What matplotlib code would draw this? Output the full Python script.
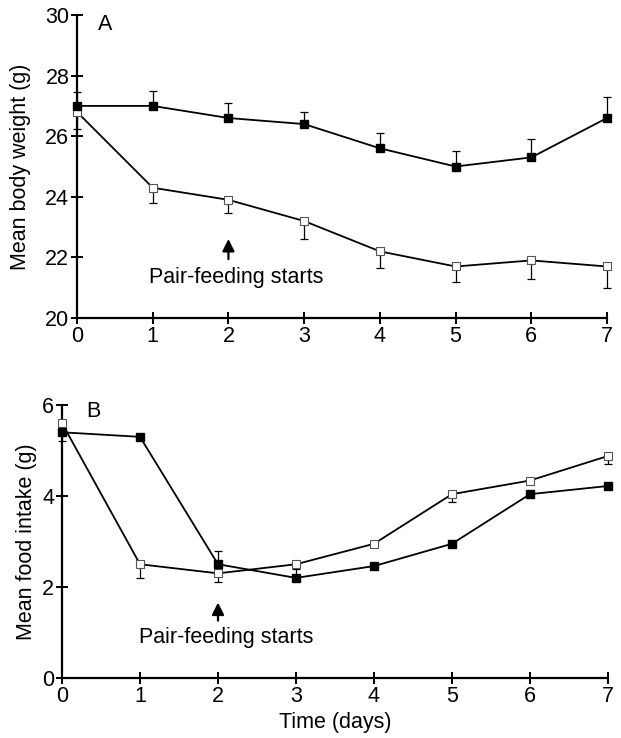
import matplotlib
matplotlib.use("Agg")
import matplotlib.pyplot as plt
import numpy as np

plt.rcParams['font.family'] = ['Liberation Sans', 'DejaVu Sans']

days = [0, 1, 2, 3, 4, 5, 6, 7]

# Panel A: mean body weight (g)
wt_filled = [27.0, 27.0, 26.6, 26.4, 25.6, 25.0, 25.3, 26.6]
wt_filled_err = [0.45, 0.5, 0.5, 0.4, 0.5, 0.5, 0.6, 0.7]
wt_open = [26.8, 24.3, 23.9, 23.2, 22.2, 21.7, 21.9, 21.7]
wt_open_err = [0.55, 0.5, 0.45, 0.6, 0.55, 0.5, 0.6, 0.7]

# Panel B: mean food intake (g)
fi_filled = [5.4, 5.3, 2.5, 2.2, 2.46, 2.95, 4.04, 4.22]
fi_filled_err = [0.05, 0.05, 0.3, 0.2, 0.07, 0.07, 0.05, 0.07]
fi_open = [5.6, 2.5, 2.3, 2.5, 2.95, 4.04, 4.34, 4.88]
fi_open_err = [0.4, 0.3, 0.2, 0.05, 0.05, 0.18, 0.05, 0.18]

annot_text = "Pair-feeding starts"

fig = plt.figure(figsize=(6.21, 7.38), dpi=100)
axA = fig.add_axes([77/621, 1-318/738, 530/621, 303/738])
axB = fig.add_axes([62/621, 1-678/738, 546/621, 273/738])

FS = 15.5

def style(ax):
    for s in ['top', 'right']:
        ax.spines[s].set_visible(False)
    for s in ['left', 'bottom']:
        ax.spines[s].set_linewidth(1.6)
    ax.tick_params(direction='inout', length=9, width=1.4, labelsize=FS, pad=1)
    ax.set_xticks(days)

def draw(ax, x, yf, ef, yo, eo):
    zeros = np.zeros(len(x))
    ax.errorbar(x, yo, yerr=[eo, zeros], fmt='none', ecolor='black',
                elinewidth=0.9, capsize=3, capthick=0.9, clip_on=False, zorder=2)
    ax.errorbar(x, yf, yerr=[zeros, ef], fmt='none', ecolor='black',
                elinewidth=0.9, capsize=3, capthick=0.9, clip_on=False, zorder=2)
    ax.plot(x, yo, color='black', lw=1.3, marker='s', ms=6, mfc='white',
            mec='#555555', mew=0.8, clip_on=False, zorder=3)
    ax.plot(x, yf, color='black', lw=1.3, marker='s', ms=6, mfc='black',
            mec='black', clip_on=False, zorder=4)

style(axA)
draw(axA, days, wt_filled, wt_filled_err, wt_open, wt_open_err)
axA.set_xlim(0, 7)
axA.set_ylim(20, 30)
axA.set_yticks([20, 22, 24, 26, 28, 30])
axA.set_ylabel("Mean body weight (g)", fontsize=FS, labelpad=10)
axA.text(0.37, 29.7, "A", fontsize=FS, ha='center', va='center')
axA.annotate("", xy=(2, 22.7), xytext=(2, 21.85),
             arrowprops=dict(arrowstyle='-|>', color='black', lw=1.6,
                             mutation_scale=18))
axA.text(2.1, 21.35, annot_text, fontsize=FS, ha='center', va='center')

style(axB)
draw(axB, days, fi_filled, fi_filled_err, fi_open, fi_open_err)
axB.set_xlim(0, 7)
axB.set_ylim(0, 6)
axB.set_yticks([0, 2, 4, 6])
axB.set_ylabel("Mean food intake (g)", fontsize=FS, labelpad=4)
axB.set_xlabel("Time (days)", fontsize=FS, labelpad=4)
axB.text(0.4, 5.85, "B", fontsize=FS, ha='center', va='center')
axB.annotate("", xy=(2, 1.72), xytext=(2, 1.2),
             arrowprops=dict(arrowstyle='-|>', color='black', lw=1.6,
                             mutation_scale=18))
axB.text(2.1, 0.9, annot_text, fontsize=FS, ha='center', va='center')

fig.savefig("out.png", dpi=100)
